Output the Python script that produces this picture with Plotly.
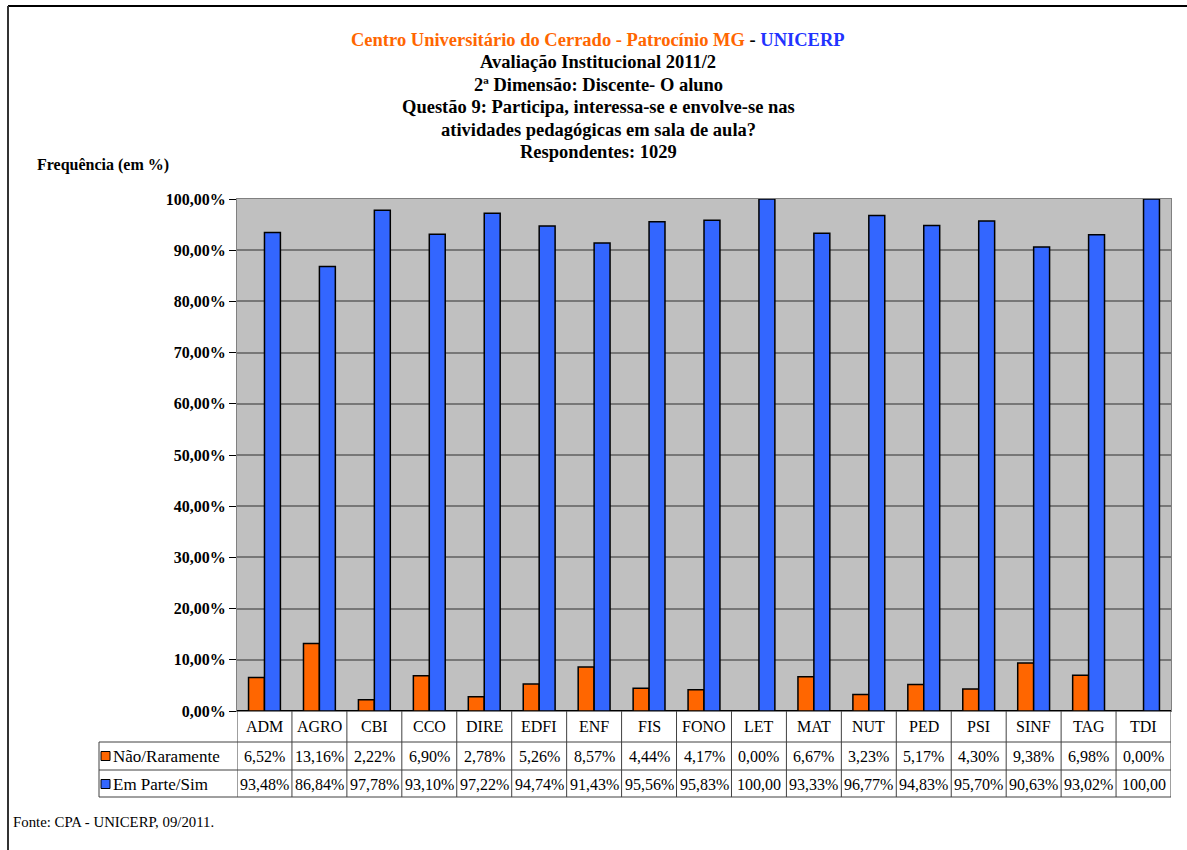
import plotly.graph_objects as go

cursos = ["ADM", "AGRO", "CBI", "CCO", "DIRE", "EDFI", "ENF", "FIS", "FONO",
          "LET", "MAT", "NUT", "PED", "PSI", "SINF", "TAG", "TDI"]
nao_raramente = [6.52, 13.16, 2.22, 6.90, 2.78, 5.26, 8.57, 4.44, 4.17,
                 0.00, 6.67, 3.23, 5.17, 4.30, 9.38, 6.98, 0.00]
em_parte_sim = [93.48, 86.84, 97.78, 93.10, 97.22, 94.74, 91.43, 95.56, 95.83,
                100.00, 93.33, 96.77, 94.83, 95.70, 90.63, 93.02, 100.00]
y_ticks = [0, 10, 20, 30, 40, 50, 60, 70, 80, 90, 100]
y_ticktext = ["0,00%", "10,00%", "20,00%", "30,00%", "40,00%", "50,00%",
              "60,00%", "70,00%", "80,00%", "90,00%", "100,00%"]

series = [("Não/Raramente", nao_raramente, "#FF6600"),
          ("Em Parte/Sim", em_parte_sim, "#3366FF")]

FONT = "Liberation Serif"

# pixel geometry of the original sheet
W, H = 1187, 850
L, R, T, B = 237, 1171, 199, 711
pw, ph = R - L, B - T


def px_x(x):
    return (x - L) / pw


def px_y(y):
    return (B - y) / ph


def cell_text(v):
    s = f"{v:.2f}".replace(".", ",")
    # the spreadsheet cell is too narrow for "100,00%", the % gets clipped
    return s if v >= 100 else s + "%"


def note(x, y, text, size=16, xanchor="center", xref="paper"):
    return dict(x=x, y=y, xref=xref, yref="paper", xanchor=xanchor, yanchor="middle", text=text,
                showarrow=False, font=dict(family=FONT, size=size, color="black"))


fig = go.Figure()
for name, vals, color in series:
    fig.add_trace(go.Bar(x=cursos, y=vals, name=name, marker=dict(color=color, line=dict(color="black", width=1.5))))

shapes = []
annotations = []

# data table under the plot
row_lines = [px_y(742), px_y(770), px_y(797)]
row_mid = [px_y(726), px_y(756), px_y(784)]
grid_col = "#404040"
for i in range(len(cursos) + 1):
    shapes.append(dict(type="line", xref="x", yref="paper", x0=i - 0.5, x1=i - 0.5, y0=0, y1=row_lines[-1],
                       line=dict(color=grid_col, width=1)))
for y in row_lines:
    shapes.append(dict(type="line", xref="paper", yref="paper", x0=px_x(99), x1=1, y0=y, y1=y,
                       line=dict(color=grid_col, width=1)))
shapes.append(dict(type="line", xref="paper", yref="paper", x0=px_x(99), x1=px_x(99), y0=row_lines[0], y1=row_lines[-1],
                   line=dict(color=grid_col, width=1)))

for c in cursos:
    annotations.append(note(c, row_mid[0], c, xref="x"))
for r, (name, vals, color) in enumerate(series):
    ym = row_mid[r + 1]
    for c, v in zip(cursos, vals):
        annotations.append(note(c, ym, cell_text(v), xref="x"))
    # legend key square
    shapes.append(dict(type="rect", xref="paper", yref="paper", x0=px_x(101), x1=px_x(110),
                       y0=ym - 4.5 / ph, y1=ym + 4.5 / ph, fillcolor=color, line=dict(color="black", width=1)))
    annotations.append(note(px_x(111), ym, name, size=17, xanchor="left"))

# outer frame of the sheet (top and left only)
shapes.append(dict(type="line", xref="paper", yref="paper", x0=px_x(8), x1=px_x(W), y0=px_y(6), y1=px_y(6),
                   line=dict(color="black", width=2)))
shapes.append(dict(type="line", xref="paper", yref="paper", x0=px_x(8), x1=px_x(8), y0=px_y(6), y1=px_y(H),
                   line=dict(color="#333333", width=2)))

# title block
title_lines = [
    "<span style='color:#FF6600'>Centro Universitário do Cerrado - Patrocínio MG</span> - "
    "<span style='color:#2233FF'>UNICERP</span>",
    "Avaliação Institucional 2011/2",
    "2ª Dimensão: Discente- O aluno",
    "Questão 9: Participa, interessa-se e envolve-se nas",
    "atividades pedagógicas em sala de aula?",
    "Respondentes: 1029",
]
for i, t in enumerate(title_lines):
    annotations.append(note(px_x(598), px_y(40 + 22.4 * i), "<b>" + t + "</b>", size=18.5))

annotations.append(note(px_x(35), px_y(165), "<b>Frequência (em %)</b>", size=16, xanchor="left"))
annotations.append(note(px_x(11), px_y(822), "Fonte: CPA - UNICERP, 09/2011.", size=14.8, xanchor="left"))

fig.update_layout(
    width=W, height=H,
    margin=dict(l=L, r=W - R, t=T, b=H - B, pad=0),
    paper_bgcolor="white",
    plot_bgcolor="#C0C0C0",
    barmode="group",
    bargap=0.42,
    bargroupgap=0,
    showlegend=False,
    xaxis=dict(type="category", range=[-0.5, len(cursos) - 0.5], showticklabels=False, ticks="",
               showgrid=False, showline=True, linecolor="#808080", mirror=True),
    yaxis=dict(range=[0, 100], tickvals=y_ticks, ticktext=y_ticktext,
               tickfont=dict(family=FONT, size=16, color="black", weight="bold"), ticks="outside", ticklen=7,
               tickcolor="black", showgrid=True, gridcolor="#777777", gridwidth=1.5,
               showline=True, linecolor="#808080", mirror=True, zeroline=True, zerolinecolor="black"),
    shapes=shapes,
    annotations=annotations,
)

fig.write_html("out.html", config={"displayModeBar": False},
               post_script="document.body.style.margin='0';")
